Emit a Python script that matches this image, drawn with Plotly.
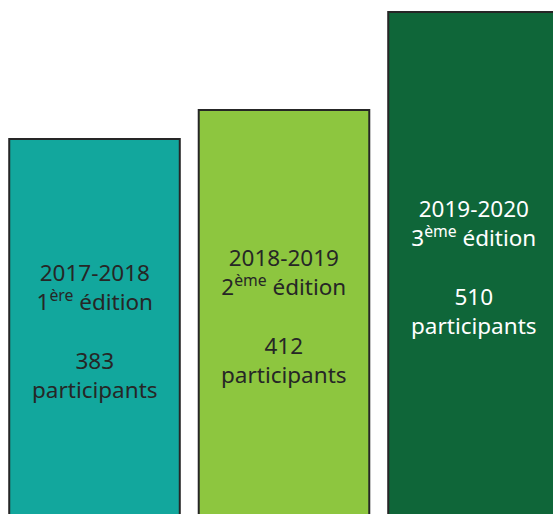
import plotly.graph_objects as go

# Participation per edition
editions = ["2017-2018", "2018-2019", "2019-2020"]
ordinals = ["1", "2", "3"]
suffixes = ["ère", "ème", "ème"]
participants = [383, 412, 510]

bar_colors = ["#12A79D", "#8DC63F", "#0F6639"]
text_colors = ["#262626", "#262626", "#ffffff"]

x_pos = list(range(len(editions)))

fig = go.Figure(
    go.Bar(
        x=x_pos,
        y=participants,
        width=0.9,
        marker=dict(color=bar_colors, line=dict(color="#262626", width=2)),
        hoverinfo="skip",
    )
)

y_lo, y_hi = 8, 522
for i, (ed, o, s, n) in enumerate(zip(editions, ordinals, suffixes, participants)):
    label = f"{ed}<br>{o}<sup>{s}</sup> édition<br><br>{n}<br>participants"
    fig.add_annotation(
        x=i,
        y=(n + y_lo) / 2 - 4,
        text=label,
        showarrow=False,
        xanchor="center",
        yanchor="middle",
        align="center",
        font=dict(family="Noto Sans", size=22.5, color=text_colors[i]),
    )

fig.update_layout(
    width=553,
    height=514,
    margin=dict(l=0, r=0, t=0, b=0),
    paper_bgcolor="white",
    plot_bgcolor="white",
    showlegend=False,
    xaxis=dict(range=[-0.4987, 2.4195], visible=False, fixedrange=True),
    yaxis=dict(range=[y_lo, y_hi], visible=False, fixedrange=True),
)

fig.write_html("out.html")
